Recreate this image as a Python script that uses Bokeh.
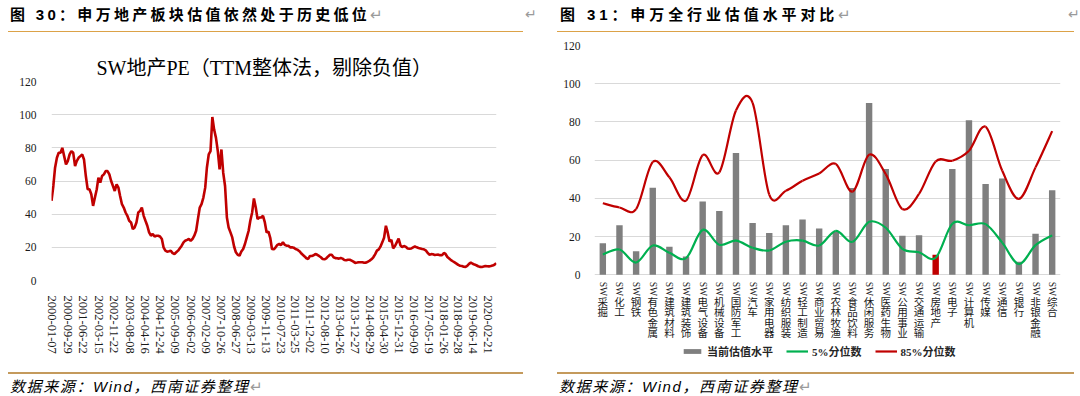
import math
import pandas as pd
from bokeh.plotting import figure
from bokeh.models import (Range1d, FactorRange, FixedTicker, DatetimeTickFormatter,
                          Legend, LegendItem, Div, ColumnDataSource)
from bokeh.layouts import column, row
from bokeh.embed import file_html
from bokeh.resources import INLINE
from bokeh.core.properties import value

SERIF = "'Liberation Serif', 'Noto Sans CJK SC', serif"

# ---------------- Left chart: SW real-estate PE (monthly readings) ----------------
pe_2000 = [48, 57, 68, 74, 77, 77, 80, 75, 70, 72, 76, 78]
pe_2001 = [77, 69, 72, 74, 75, 76, 73, 63, 55, 55, 52, 45]
pe_2002 = [50, 55, 62, 59, 63, 64, 66, 66, 64, 60, 57, 54]
pe_2003 = [58, 56, 51, 46, 44, 41, 39, 36, 35, 31, 32, 35]
pe_2004 = [41, 42, 44, 39, 36, 33, 29, 27, 28, 26.5, 27, 27]
pe_2005 = [26.5, 25, 20, 18, 17.4, 17.6, 18, 16.5, 16, 17, 18, 19.5]
pe_2006 = [21, 23, 24, 24.5, 25, 24, 25, 27, 30, 37, 44, 46]
pe_2007 = [50, 56, 68, 76, 78, 98.6, 91, 86, 78, 67, 79, 65]
pe_2008 = [57, 38, 32, 29, 26, 20.5, 17, 15.5, 15, 17.5, 19, 22]
pe_2009 = [26, 30, 36, 41, 49.5, 44, 37, 38, 38, 39, 35, 29]
pe_2010 = [29.5, 25.5, 19, 18.8, 20, 21.5, 22, 21.4, 23, 21.5, 21, 21]
pe_2011 = [20, 20, 19.8, 19, 18.6, 17.8, 16.6, 15.5, 14.5, 13.4, 13, 14.8]
pe_2012 = [14.8, 15.2, 16, 15.5, 14.8, 14, 13, 12.8, 13.4, 14.5, 15.5, 15.5]
pe_2013 = [14, 13.5, 13.4, 13.2, 13.6, 13.2, 12.4, 12.2, 12.5, 12.5, 12, 11.4]
pe_2014 = [10.6, 10.8, 11, 11, 11, 10.7, 10.8, 11.3, 12, 12.8, 14, 15.8]
pe_2015 = [18, 18.8, 20.4, 23, 25.8, 33, 29, 23.5, 24.5, 19.4, 20.8, 23]
pe_2016 = [25.2, 21.2, 20.1, 20.8, 20.3, 19.3, 19.1, 19.3, 20, 20.5, 20, 19.6]
pe_2017 = [19.3, 19, 18.8, 18.2, 16.8, 15.6, 15.9, 15.8, 15.4, 15.5, 15.6, 15.3]
pe_2018 = [15.2, 16.6, 16, 14.2, 13.3, 12.3, 11.6, 10.9, 10.2, 9.4, 8.9, 8.7]
pe_2019 = [8.3, 8.2, 8.8, 10, 10.8, 10.1, 9.6, 9.2, 8.6, 8.2, 8.1, 8.4]
pe_2020 = [8.8, 8.6, 8.5, 8.7, 9, 9.5, 10.5]

pe_tick_labels = ["2000-01-07", "2000-09-29", "2001-06-22", "2002-03-15", "2002-11-22",
                  "2003-08-08", "2004-04-16", "2004-12-24", "2005-09-09", "2006-06-02",
                  "2007-02-09", "2007-10-26", "2008-06-27", "2009-03-13", "2009-11-13",
                  "2010-07-23", "2011-03-25", "2011-12-02", "2012-08-10", "2013-04-26",
                  "2013-12-27", "2014-08-29", "2015-04-30", "2015-12-31", "2016-09-09",
                  "2017-05-19", "2018-01-26", "2018-09-28", "2019-06-14", "2020-02-21"]
pe_yticks = [0, 20, 40, 60, 80, 100, 120]

# ---------------- Right chart: SW industries valuation ----------------
sw_industries = ["SW采掘", "SW化工", "SW钢铁", "SW有色金属", "SW建筑材料", "SW建筑装饰",
                 "SW电气设备", "SW机械设备", "SW国防军工", "SW汽车", "SW家用电器", "SW纺织服装",
                 "SW轻工制造", "SW商业贸易", "SW农林牧渔", "SW食品饮料", "SW休闲服务", "SW医药生物",
                 "SW公用事业", "SW交通运输", "SW房地产", "SW电子", "SW计算机", "SW传媒",
                 "SW通信", "SW银行", "SW非银金融", "SW综合"]
current_level = [16.5, 25.9, 12.3, 45.6, 14.6, 9.6, 38.3, 33.4, 63.7, 27.1, 21.9, 25.9,
                 28.9, 24.2, 22.5, 45.4, 89.9, 55.3, 20.4, 20.7, 10.5, 55.3, 80.9, 47.5,
                 50.4, 6.8, 21.4, 44.2]
pct5 = [10.6, 13.2, 6.4, 15.3, 11.5, 8.7, 23.5, 15.7, 17.9, 14.1, 12.7, 17.3,
        17.9, 15.3, 23.0, 17.2, 27.7, 24.6, 13.6, 11.8, 8.9, 26.7, 25.9, 26.5,
        16.8, 5.6, 15.5, 20.6]
pct85 = [37.4, 35.2, 34.4, 59.0, 51.0, 38.8, 62.6, 53.6, 86.0, 90.0, 42.0, 44.0,
         49.2, 53.0, 58.0, 43.5, 62.8, 52.7, 34.4, 42.3, 59.3, 59.7, 64.9, 77.5,
         54.4, 39.7, 56.2, 75.2]
highlight_industry = "SW房地产"
legend_labels = ["当前估值水平", "5%分位数", "85%分位数"]
sw_yticks = [0, 20, 40, 60, 80, 100, 120]

# ---------------- styles / layout constants ----------------
RED = "#C00000"
GREEN = "#00B050"
GRAY = "#7F7F7F"
GRID = "#D9D9D9"
TICK = "#1a1a1a"
NAN = float("nan")

# ================= left figure =================
pe_years = [(2000, pe_2000), (2001, pe_2001), (2002, pe_2002), (2003, pe_2003), (2004, pe_2004),
            (2005, pe_2005), (2006, pe_2006), (2007, pe_2007), (2008, pe_2008), (2009, pe_2009),
            (2010, pe_2010), (2011, pe_2011), (2012, pe_2012), (2013, pe_2013), (2014, pe_2014),
            (2015, pe_2015), (2016, pe_2016), (2017, pe_2017), (2018, pe_2018), (2019, pe_2019),
            (2020, pe_2020)]
pe_dates, pe_vals = [], []
for yr, vals in pe_years:
    for mi, v in enumerate(vals):
        pe_dates.append(pd.Timestamp(year=yr, month=mi + 1, day=1))
        pe_vals.append(v)

p1 = figure(width=540, height=329, x_axis_type="datetime", output_backend="svg",
            toolbar_location=None,
            x_range=Range1d(pd.Timestamp("2000-01-01"), pd.Timestamp("2020-07-06")),
            y_range=Range1d(0, 120),
            min_border_left=51, min_border_right=44, min_border_top=45, min_border_bottom=85,
            margin=(0, 0, 0, 0), frame_align=False)
p1.outline_line_color = None
p1.xgrid.visible = False
p1.ygrid.grid_line_color = GRID
p1.ygrid.grid_line_width = 1

p1.title.text = "SW地产PE（TTM整体法，剔除负值）"
p1.title.text_font = SERIF
p1.title.text_font_size = "20px"
p1.title.text_font_style = "normal"
p1.title.text_color = "#000000"
p1.title.align = "left"
p1.title.offset = 45
p1.title.standoff = 6

p1.line(pe_dates, pe_vals, line_color=RED, line_width=2.6)

tick_ms = [pd.Timestamp(d).value / 1e6 for d in pe_tick_labels]
p1.xaxis.ticker = FixedTicker(ticks=tick_ms)
fmt = "%Y-%m-%d"
p1.xaxis.formatter = DatetimeTickFormatter(microseconds=fmt, milliseconds=fmt, seconds=fmt,
                                           minsec=fmt, minutes=fmt, hourmin=fmt, hours=fmt,
                                           days=fmt, months=fmt, years=fmt, context=None)
p1.xaxis.major_label_orientation = "vertical"
p1.yaxis.ticker = FixedTicker(ticks=pe_yticks)
for ax in (p1.xaxis, p1.yaxis):
    ax.axis_line_color = None
    ax.major_tick_line_color = None
    ax.minor_tick_line_color = None
    ax.major_label_text_font = SERIF
    ax.major_label_text_color = TICK
p1.xaxis.major_label_text_font_size = "12.5px"
p1.xaxis.major_label_standoff = 9
p1.yaxis.major_label_text_font_size = "11.5px"
p1.yaxis.major_label_standoff = 9

# ================= right figure =================
# The frame is extended below zero so the vertical category labels and the
# legend can sit under the bars (0 at frame y where the reference has it).
Y_BOTTOM = -47.5                    # frame extension below 0 (layout only)
U = 120 / 229.3                     # data units per pixel on this chart
p2 = figure(width=540, height=329, output_backend="svg", toolbar_location=None,
            x_range=FactorRange(factors=sw_industries, range_padding=0, factor_padding=0),
            y_range=Range1d(Y_BOTTOM, 120), x_axis_location=None,
            min_border_left=54, min_border_right=20, min_border_top=9, min_border_bottom=0,
            margin=(0, 0, 0, 0), frame_align=False)
p2.outline_line_color = None
p2.xgrid.visible = False
p2.ygrid.grid_line_color = GRID
p2.ygrid.grid_line_width = 1

bar_colors = [RED if c == highlight_industry else GRAY for c in sw_industries]
bar_src = ColumnDataSource(dict(x=sw_industries, top=current_level, color=bar_colors))
bars = p2.vbar(x="x", top="top", bottom=0, width=0.385, fill_color="color", line_color=None,
               source=bar_src)


def smooth_segments(vals):
    """Excel-style smoothed line: cubic Bezier between consecutive points."""
    n = len(vals)
    xs = [i + 0.5 for i in range(n)]
    seg = dict(x0=[], y0=[], x1=[], y1=[], cx0=[], cy0=[], cx1=[], cy1=[])
    for i in range(n - 1):
        a = max(i - 1, 0)
        b = min(i + 2, n - 1)
        seg["x0"].append(xs[i]); seg["y0"].append(vals[i])
        seg["x1"].append(xs[i + 1]); seg["y1"].append(vals[i + 1])
        seg["cx0"].append(xs[i] + (xs[i + 1] - xs[a]) / 6.0)
        seg["cy0"].append(vals[i] + (vals[i + 1] - vals[a]) / 6.0)
        seg["cx1"].append(xs[i + 1] - (xs[b] - xs[i]) / 6.0)
        seg["cy1"].append(vals[i + 1] - (vals[b] - vals[i]) / 6.0)
    return ColumnDataSource(seg)


p2.bezier(x0="x0", y0="y0", x1="x1", y1="y1", cx0="cx0", cy0="cy0", cx1="cx1", cy1="cy1",
          source=smooth_segments(pct5), line_color=GREEN, line_width=2.2)
p2.bezier(x0="x0", y0="y0", x1="x1", y1="y1", cx0="cx0", cy0="cy0", cx1="cx1", cy1="cy1",
          source=smooth_segments(pct85), line_color=RED, line_width=2.2)
# legend keys only (no visible data)
g_proxy = p2.line(x=sw_industries[:2], y=[NAN, NAN], line_color=GREEN, line_width=2.2)
r_proxy = p2.line(x=sw_industries[:2], y=[NAN, NAN], line_color=RED, line_width=2.2)

# vertical category labels: "SW" turned, Chinese characters stacked upright
sw_part = [c[:2] for c in sw_industries]
p2.text(x=sw_industries, y=[-7 * U] * len(sw_industries), text=sw_part,
        angle=-math.pi / 2, text_align="left", text_baseline="middle",
        text_font=value(SERIF), text_font_size="9.5px", text_color=TICK)
ch_x, ch_y, ch_t = [], [], []
for c in sw_industries:
    for k, ch in enumerate(c[2:]):
        ch_x.append(c)
        ch_y.append(-(22 + 10.4 * k) * U)
        ch_t.append(ch)
p2.text(x=ch_x, y=ch_y, text=ch_t, text_align="center", text_baseline="top",
        text_font=value(SERIF), text_font_size="10.5px", text_color=TICK)

legend = Legend(items=[LegendItem(label=legend_labels[0], renderers=[bars], index=0),
                       LegendItem(label=legend_labels[1], renderers=[g_proxy], index=0),
                       LegendItem(label=legend_labels[2], renderers=[r_proxy], index=0)],
                orientation="horizontal", location=(87, 6))
legend.label_text_font = SERIF
legend.label_text_font_size = "11px"
legend.label_text_font_style = "bold"
legend.label_text_color = "#262626"
legend.glyph_width = 22
legend.glyph_height = 6
legend.label_height = 12
legend.label_standoff = 4
legend.spacing = 13
legend.padding = 0
legend.margin = 0
legend.border_line_color = None
legend.background_fill_alpha = 0
p2.add_layout(legend)

p2.yaxis.ticker = FixedTicker(ticks=sw_yticks)
p2.yaxis.axis_line_color = None
p2.yaxis.major_tick_line_color = None
p2.yaxis.minor_tick_line_color = None
p2.yaxis.major_label_text_font = SERIF
p2.yaxis.major_label_text_color = TICK
p2.yaxis.major_label_text_font_size = "11.5px"
p2.yaxis.major_label_standoff = 8

# ================= header / footer =================
TITLE_FONT = "'Liberation Sans', 'Noto Sans CJK SC', sans-serif"
RET = '<span style="color:#9A9A9A;font-weight:normal;font-style:normal;letter-spacing:0">↵</span>'
header_html = f"""
<div style="position:relative;width:1080px;height:36px;background:white;">
  <div style="position:absolute;left:10px;top:7px;font-family:{TITLE_FONT};font-weight:bold;font-size:15px;line-height:15px;letter-spacing:3.3px;white-space:nowrap;color:#000;">图 30：申万地产板块估值依然处于历史低位{RET}</div>
  <div style="position:absolute;left:525px;top:7px;font-size:14px;line-height:15px;color:#9A9A9A;">↵</div>
  <div style="position:absolute;left:560px;top:7px;font-family:{TITLE_FONT};font-weight:bold;font-size:15px;line-height:15px;letter-spacing:3.9px;white-space:nowrap;color:#000;">图 31：申万全行业估值水平对比{RET}</div>
  <div style="position:absolute;left:1068px;top:7px;font-size:14px;line-height:15px;color:#9A9A9A;">↵</div>
  <div style="position:absolute;left:8px;top:30.5px;width:515px;height:0;border-top:1.6px solid #DCA247;"></div>
  <div style="position:absolute;left:557px;top:30.5px;width:517px;height:0;border-top:1.6px solid #DCA247;"></div>
</div>
"""
footer_html = f"""
<div style="position:relative;width:1080px;height:31px;background:white;">
  <div style="position:absolute;left:8px;top:6.5px;width:515px;height:0;border-top:2px solid #C49A5C;"></div>
  <div style="position:absolute;left:557px;top:6.5px;width:517px;height:0;border-top:2px solid #C49A5C;"></div>
  <div style="position:absolute;left:10px;top:14px;font-family:{TITLE_FONT};font-style:italic;font-size:15px;line-height:16px;letter-spacing:1.6px;white-space:nowrap;color:#000;">数据来源：Wind，西南证券整理{RET}</div>
  <div style="position:absolute;left:559px;top:14px;font-family:{TITLE_FONT};font-style:italic;font-size:15px;line-height:16px;letter-spacing:1.6px;white-space:nowrap;color:#000;">数据来源：Wind，西南证券整理{RET}</div>
</div>
"""
header = Div(text=header_html, width=1080, height=36, margin=(0, 0, 0, 0))
footer = Div(text=footer_html, width=1080, height=31, margin=(0, 0, 0, 0))

layout = column(header, row(p1, p2, spacing=0), footer, spacing=0)

open("out.html", "w").write(file_html(layout, INLINE))
